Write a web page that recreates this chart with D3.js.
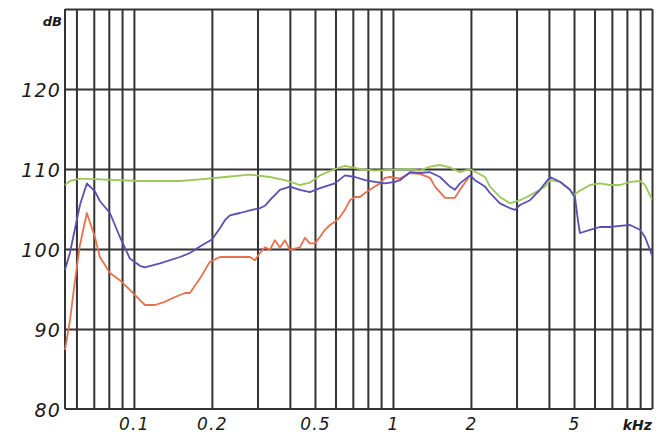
<!DOCTYPE html>
<html>
<head>
<meta charset="utf-8">
<script src="https://cdn.jsdelivr.net/npm/d3@7"></script>
<style>
html,body{margin:0;padding:0;background:#fff;}
svg{display:block;}
</style>
</head>
<body>
<svg id="chart" width="670" height="439"></svg>
<script>
// ---- data ----
const gridFreqs = [0.06,0.07,0.08,0.09,0.1,0.2,0.3,0.4,0.5,0.6,0.7,0.8,0.9,1,2,3,4,5,6,7,8,9,10];
const xTickValues = [0.1,0.2,0.5,1,2,5];
const xTickLabels = ["0.1","0.2","0.5","1","2","5"];
const yTickValues = [80,90,100,110,120];
const yGridValues = [90,100,110,120,130];

const greenF = [0.0542,0.0566,0.0619,0.0739,0.1055,0.1506,0.1798,0.2245,0.2805,0.3350,0.3828,0.4375,0.4781,0.5226,0.5971,0.6526,0.7457,0.8520,0.9737,1.163,1.271,1.390,1.519,1.660,1.814,1.983,2.266,2.369,2.589,2.830,3.093,3.381,3.695,3.863,4.038,4.414,4.825,4.955,5.272,5.763,6.299,6.884,7.524,8.226,8.989,9.397,10.0];
const greenDb = [108.0,108.5,108.8,108.7,108.5,108.5,108.7,109.0,109.3,109.0,108.6,108.0,108.3,109.2,110.0,110.4,110.0,109.8,109.9,110.0,109.8,110.3,110.5,110.2,109.6,110.0,109.0,107.8,106.5,105.7,106.1,106.7,107.4,107.8,108.6,108.4,107.4,106.7,107.3,108.0,108.2,108.0,108.0,108.4,108.5,108.0,106.2];

const blueF = [0.0542,0.0566,0.0592,0.0619,0.0658,0.0707,0.0739,0.0808,0.0883,0.0965,0.1055,0.1103,0.1260,0.1506,0.1645,0.1798,0.2001,0.2148,0.2245,0.2348,0.2566,0.2855,0.3065,0.3204,0.3350,0.3661,0.4002,0.4375,0.4781,0.5226,0.5971,0.6526,0.7133,0.7796,0.8520,0.9313,1.018,1.064,1.163,1.271,1.390,1.519,1.660,1.735,1.814,1.983,2.073,2.266,2.369,2.589,2.830,2.958,3.093,3.381,3.695,3.863,4.038,4.414,4.825,5.043,5.180,5.272,5.763,6.299,6.884,7.524,8.226,8.989,9.397,9.824,10.0];
const blueDb = [97.4,99.5,102.5,105.5,108.2,107.2,106.0,104.5,101.5,98.8,97.9,97.7,98.2,99.0,99.5,100.3,101.2,102.6,103.6,104.2,104.5,104.9,105.1,105.4,106.1,107.4,107.8,107.4,107.1,107.6,108.2,109.2,109.0,108.6,108.4,108.2,108.4,108.6,109.6,109.5,109.6,109.0,107.8,107.4,108.2,109.2,108.6,107.8,107.0,105.7,105.1,104.9,105.5,106.1,107.4,108.2,109.0,108.4,107.4,106.5,103.5,102.0,102.4,102.75,102.75,102.9,103.0,102.4,101.5,99.9,99.2];

const orangeF = [0.0542,0.0566,0.0592,0.0619,0.0658,0.0707,0.0739,0.0808,0.0883,0.0965,0.1055,0.1103,0.1205,0.1317,0.1440,0.1574,0.1645,0.1798,0.1965,0.2148,0.2805,0.2932,0.3065,0.3204,0.3350,0.3502,0.3661,0.3828,0.4002,0.4375,0.4573,0.4781,0.4998,0.5226,0.5463,0.5711,0.5971,0.6242,0.6526,0.6823,0.7133,0.7457,0.7796,0.8150,0.8520,0.8907,0.9313,0.9737,1.064,1.163,1.271,1.390,1.453,1.519,1.588,1.735,1.814,1.983];
const orangeDb = [87.4,91.0,96.0,100.5,104.5,101.5,99.0,97.0,96.1,94.9,93.6,93.0,93.0,93.4,94.0,94.5,94.5,96.3,98.4,99.0,99.0,98.6,99.5,100.2,99.9,101.1,100.2,101.1,99.9,100.2,101.4,100.7,100.7,101.5,102.4,103.0,103.4,104.0,104.9,106.1,106.5,106.5,107.0,107.4,107.8,108.2,108.9,109.0,108.8,109.5,109.4,108.9,107.8,107.1,106.4,106.4,107.4,109.2];

// ---- chart ----
const svg = d3.select("#chart");
const x = d3.scaleLog().domain([0.0542, 10]).range([65, 652]);
const y = d3.scaleLinear().domain([80, 130]).range([409, 9]);
const gridColor = "#333";

// vertical grid via axis
svg.append("g")
  .attr("transform", `translate(0,${y(80)})`)
  .call(d3.axisBottom(x).tickValues(gridFreqs).tickSize(-(y(80)-y(130))).tickFormat(""))
  .call(g => g.select(".domain").remove())
  .call(g => g.selectAll("line").attr("stroke", gridColor).attr("stroke-width", 2));

// horizontal grid via axis
svg.append("g")
  .attr("transform", `translate(${x(0.0542)},0)`)
  .call(d3.axisLeft(y).tickValues(yGridValues).tickSize(-(x(10)-x(0.0542))).tickFormat(""))
  .call(g => g.select(".domain").remove())
  .call(g => g.selectAll("line").attr("stroke", gridColor).attr("stroke-width", 2));

// frame left + bottom
svg.append("line").attr("x1", x(0.0542)).attr("x2", x(0.0542)).attr("y1", y(130)).attr("y2", y(80))
  .attr("stroke", gridColor).attr("stroke-width", 2);
svg.append("line").attr("x1", x(0.0542)).attr("x2", x(10)).attr("y1", y(80)).attr("y2", y(80))
  .attr("stroke", gridColor).attr("stroke-width", 2);

// curves
const line = d3.line().x(d => x(d[0])).y(d => y(d[1])).curve(d3.curveLinear);
const series = [
  {f: orangeF, v: orangeDb, color: "#e8704e"},
  {f: greenF, v: greenDb, color: "#9cc85a"},
  {f: blueF, v: blueDb, color: "#5a4fb4"}
];
series.forEach(s => {
  svg.append("path")
    .datum(s.f.map((f, i) => [f, s.v[i]]))
    .attr("fill", "none")
    .attr("stroke", s.color)
    .attr("stroke-width", 1.8)
    .attr("stroke-linejoin", "round")
    .attr("d", line);
});

// y labels
const yAxis = svg.append("g")
  .attr("transform", `translate(61,0)`)
  .call(d3.axisLeft(y).tickValues(yTickValues).tickSize(0).tickPadding(0).tickFormat(d3.format("d")));
yAxis.select(".domain").remove();
yAxis.selectAll("text")
  .attr("font-family", "DejaVu Sans")
  .attr("font-style", "italic")
  .attr("font-size", 19)
  .attr("letter-spacing", 1.2)
  .attr("fill", "#1a1a1a")
  .attr("dy", "0.4em");

// x labels
const xAxis = svg.append("g")
  .attr("transform", `translate(0,${y(80)})`)
  .call(d3.axisBottom(x).tickValues(xTickValues).tickSize(0).tickPadding(0)
    .tickFormat((d, i) => xTickLabels[i]));
xAxis.select(".domain").remove();
xAxis.selectAll("text")
  .attr("font-family", "DejaVu Sans")
  .attr("font-style", "italic")
  .attr("font-size", 17)
  .attr("letter-spacing", 1.2)
  .attr("fill", "#1a1a1a")
  .attr("dy", null)
  .attr("y", 21);

// unit labels
svg.append("text")
  .attr("x", x(10)).attr("y", y(80) + 21)
  .attr("text-anchor", "end")
  .attr("font-family", "DejaVu Sans").attr("font-style", "italic").attr("font-weight", "bold")
  .attr("font-size", 14).attr("fill", "#1a1a1a")
  .text("kHz");
svg.append("text")
  .attr("x", 62).attr("y", 26)
  .attr("text-anchor", "end")
  .attr("font-family", "DejaVu Sans").attr("font-style", "italic").attr("font-weight", "bold")
  .attr("font-size", 13).attr("fill", "#1a1a1a")
  .text("dB");
</script>
</body>
</html>
